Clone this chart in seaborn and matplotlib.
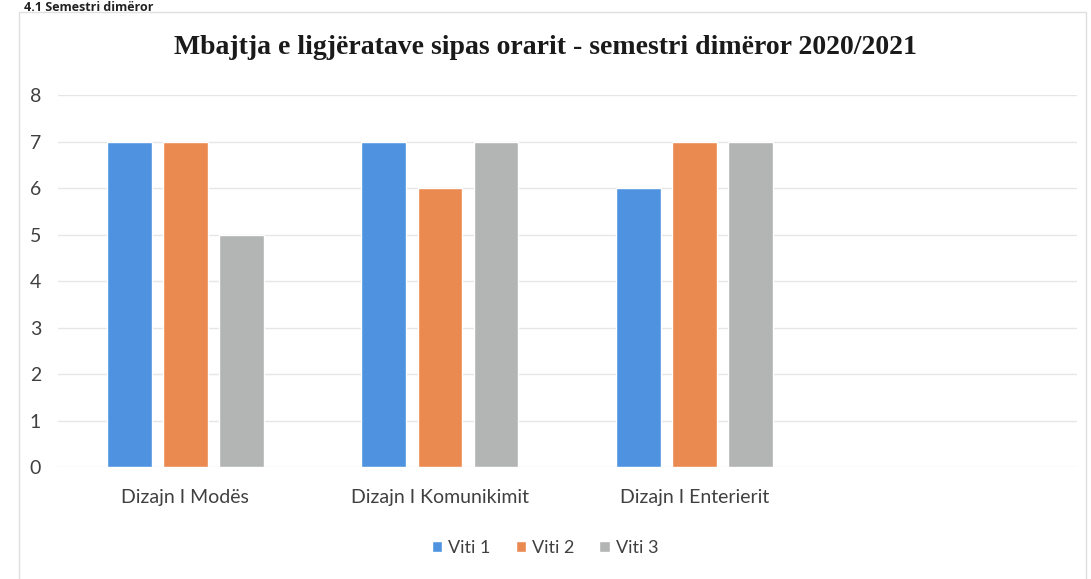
import matplotlib
matplotlib.use("Agg")
import matplotlib.pyplot as plt
import pandas as pd
import seaborn as sns
from matplotlib.patches import Rectangle

# data
programs = ["Dizajn I Modës", "Dizajn I Komunikimit", "Dizajn I Enterierit"]
years = ["Viti 1", "Viti 2", "Viti 3"]
viti_1 = [7, 7, 6]
viti_2 = [7, 6, 7]
viti_3 = [5, 7, 7]
yticks = list(range(0, 9))
colors = ["#4F93E0", "#EA8A50", "#B3B5B4"]

df = pd.DataFrame({
    "program": programs * 3,
    "viti": [y for y in years for _ in programs],
    "value": viti_1 + viti_2 + viti_3,
})

sns.set_style("white")
plt.rcParams["font.family"] = ["Lato", "DejaVu Sans"]

fig = plt.figure(figsize=(10.91, 5.79), dpi=100)
ax = fig.add_axes([0.053, 0.1934, 0.934, 0.6425])

sns.barplot(data=df, x="program", y="value", hue="viti", order=programs + [""],
            palette=colors, width=0.66, gap=0.2, ax=ax, saturation=1)

ax.set_xlim(-0.5, 3.5)
ax.set_ylim(0, 8)
ax.set_yticks(yticks)
ax.yaxis.grid(True, color="#E6E6E6", linewidth=1)
ax.set_axisbelow(True)
for s in ax.spines.values():
    s.set_visible(False)
ax.tick_params(axis="both", length=0, labelsize=14, colors="#404040")
ax.tick_params(axis="x", pad=16)
ax.tick_params(axis="y", pad=12)
ax.set_xlabel("")
ax.set_ylabel("")

ax.legend(loc="center", bbox_to_anchor=(0.478, -0.218), ncol=3, frameon=False,
          fontsize=13, handlelength=0.6, handleheight=0.6, handletextpad=0.3,
          columnspacing=1.4, labelcolor="#404040")

fig.text(0.5, 0.918, "Mbajtja e ligjëratave sipas orarit - semestri dimëror 2020/2021",
         ha="center", va="center", fontsize=20, fontweight="bold",
         family=["Liberation Serif", "DejaVu Serif"], color="#1a1a1a")

fig.text(0.022, 0.999, "4.1 Semestri dimëror", ha="left", va="top",
         fontsize=9, fontweight="bold", family=["Open Sans", "DejaVu Sans"],
         color="#222222")

fig.patches.append(Rectangle((0.017, -0.01), 0.978, 0.99, transform=fig.transFigure,
                             fill=False, edgecolor="#E0E0E0", linewidth=1))

fig.savefig("out.png", dpi=100)
